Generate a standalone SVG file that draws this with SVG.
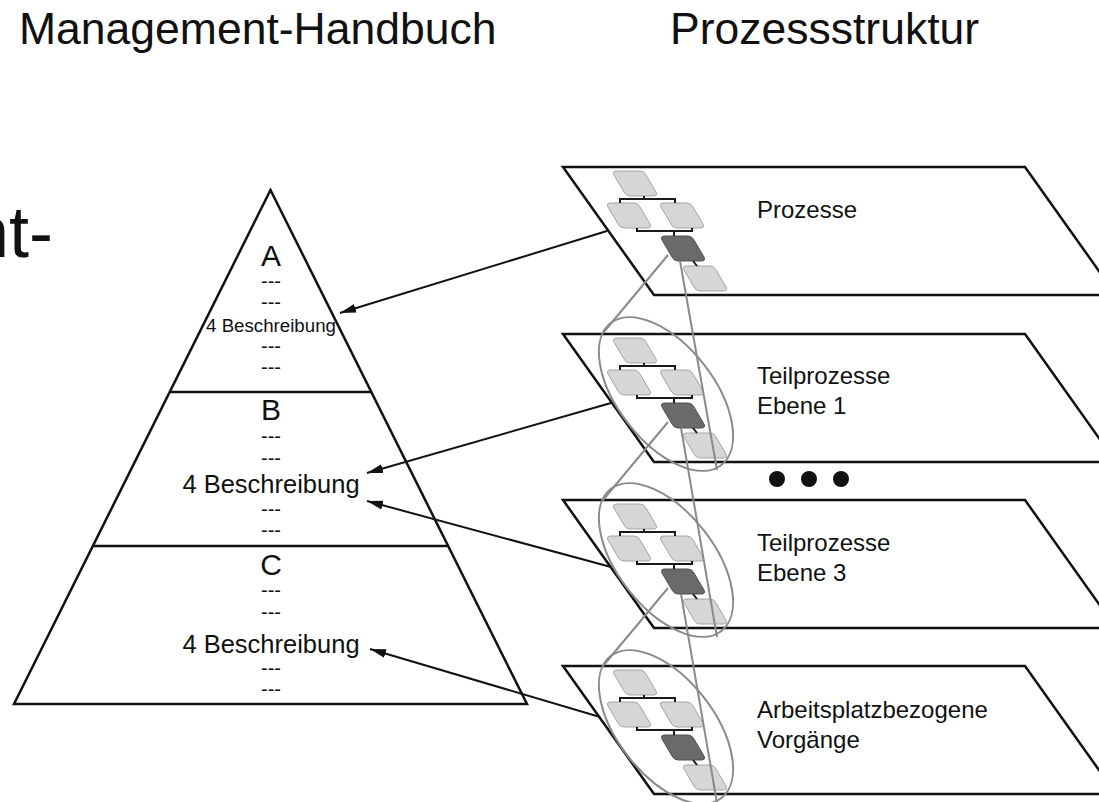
<svg xmlns="http://www.w3.org/2000/svg" width="1099" height="802" viewBox="0 0 1099 802">
<style>
text{font-family:"Liberation Sans",Arial,sans-serif;fill:#111}
.hdr{font-size:44.5px}
.lbl{font-size:24px}
.big{font-size:30px;text-anchor:middle}
.dash{font-size:20px;text-anchor:middle}
.dsc{text-anchor:middle;font-size:25.5px}
.frame{fill:none;stroke:#111;stroke-width:2.5;stroke-linejoin:miter}
.light{fill:#d6d6d6;stroke:#a4a4a4;stroke-width:1}
.dark{fill:#6a6a6a;stroke:#505050;stroke-width:1}
.brk{fill:none;stroke:#1a1a1a;stroke-width:2}
.gray{fill:none;stroke:#8a8a8a;stroke-width:2}
.arr{fill:none;stroke:#111;stroke-width:2;marker-end:url(#ah)}
</style>
<defs>
<marker id="ah" markerUnits="userSpaceOnUse" markerWidth="17" markerHeight="10" refX="16" refY="5" orient="auto">
<path d="M0,0.5 L16,5 L0,9.5 Z" fill="#111"/>
</marker>
<path id="nd" d="M5,0 L28,0 Q32,0 34,4 L44,21 Q46,25 41,25 L18,25 Q14,25 12,21 L2,4 Q0,0 5,0 Z"/>
<g id="cluster">
<use href="#nd" class="light" x="612" y="4"/>
<use href="#nd" class="light" x="606" y="36"/>
<use href="#nd" class="light" x="659" y="36"/>
<use href="#nd" class="dark" x="660" y="69"/>
<use href="#nd" class="light" x="682" y="99"/>
<path class="brk" d="M620,36 V32 H675 V36 M644,29 V32 M637,61 V64 H692 V61 M674,64 V69 M693,94 L697,99"/>
</g>
</defs>

<g id="header-left"><text class="hdr" x="19" y="44">Management-Handbuch</text></g>
<g id="header-right"><text class="hdr" x="670" y="44">Prozessstruktur</text></g>
<g id="fragment"><text x="-31" y="257" style="font-size:72px">nt-</text></g>

<g id="pyramid">
<polygon class="frame" points="270.5,190 527,704 14,704"/>
<line class="frame" x1="169.5" y1="392" x2="371.5" y2="392"/>
<line class="frame" x1="92.5" y1="546" x2="448.5" y2="546"/>
</g>
<g id="section-A">
<text class="big" x="271" y="266">A</text>
<text class="dash" x="271" y="288">---</text>
<text class="dash" x="271" y="309">---</text>
<text x="271" y="332" style="font-size:18.7px;text-anchor:middle">4 Beschreibung</text>
<text class="dash" x="271" y="353">---</text>
<text class="dash" x="271" y="374">---</text>
</g>
<g id="section-B">
<text class="big" x="271" y="420">B</text>
<text class="dash" x="271" y="443">---</text>
<text class="dash" x="271" y="465">---</text>
<text class="dsc" x="271" y="493">4 Beschreibung</text>
<text class="dash" x="271" y="516">---</text>
<text class="dash" x="271" y="537">---</text>
</g>
<g id="section-C">
<text class="big" x="271" y="575">C</text>
<text class="dash" x="271" y="597">---</text>
<text class="dash" x="271" y="619">---</text>
<text class="dsc" x="271" y="653">4 Beschreibung</text>
<text class="dash" x="271" y="675">---</text>
<text class="dash" x="271" y="696">---</text>
</g>

<g id="level-prozesse">
<path class="frame" d="M563,167 L1025,167 L1116,295 L654,295 Z"/>
<use href="#cluster" y="167"/>
<text class="lbl" x="757" y="218">Prozesse</text>
</g>
<g id="level-teil1">
<path class="frame" d="M563,334 L1025,334 L1116,462 L654,462 Z"/>
<use href="#cluster" y="334"/>
<ellipse class="gray" cx="666" cy="394" rx="90" ry="48" transform="rotate(52 666 394)"/>
<text class="lbl" x="757" y="384">Teilprozesse</text>
<text class="lbl" x="757" y="414">Ebene 1</text>
</g>
<g id="dots">
<circle cx="777" cy="479" r="8" fill="#111"/>
<circle cx="809" cy="479" r="8" fill="#111"/>
<circle cx="841" cy="479" r="8" fill="#111"/>
</g>
<g id="level-teil3">
<path class="frame" d="M563,500 L1025,500 L1116,628 L654,628 Z"/>
<use href="#cluster" y="500"/>
<ellipse class="gray" cx="666" cy="560" rx="90" ry="48" transform="rotate(52 666 560)"/>
<text class="lbl" x="757" y="551">Teilprozesse</text>
<text class="lbl" x="757" y="581">Ebene 3</text>
</g>
<g id="level-arbeitsplatz">
<path class="frame" d="M563,666 L1025,666 L1116,794 L654,794 Z"/>
<use href="#cluster" y="666"/>
<ellipse class="gray" cx="666" cy="727" rx="90" ry="48" transform="rotate(52 666 727)"/>
<text class="lbl" x="757" y="718">Arbeitsplatzbezogene</text>
<text class="lbl" x="757" y="748">Vorgänge</text>
</g>

<g id="connectors">
<path class="gray" d="M668,255 L603,333 M680,261 L717,470"/>
<path class="gray" d="M668,422 L603,500 M681,428 L717,637"/>
<path class="gray" d="M668,588 L603,666 M681,594 L717,803"/>
<line class="arr" x1="607" y1="231" x2="340" y2="313"/>
<line class="arr" x1="611" y1="403" x2="367" y2="473"/>
<line class="arr" x1="611" y1="567" x2="367" y2="501"/>
<line class="arr" x1="600" y1="717" x2="370" y2="649"/>
</g>
</svg>
